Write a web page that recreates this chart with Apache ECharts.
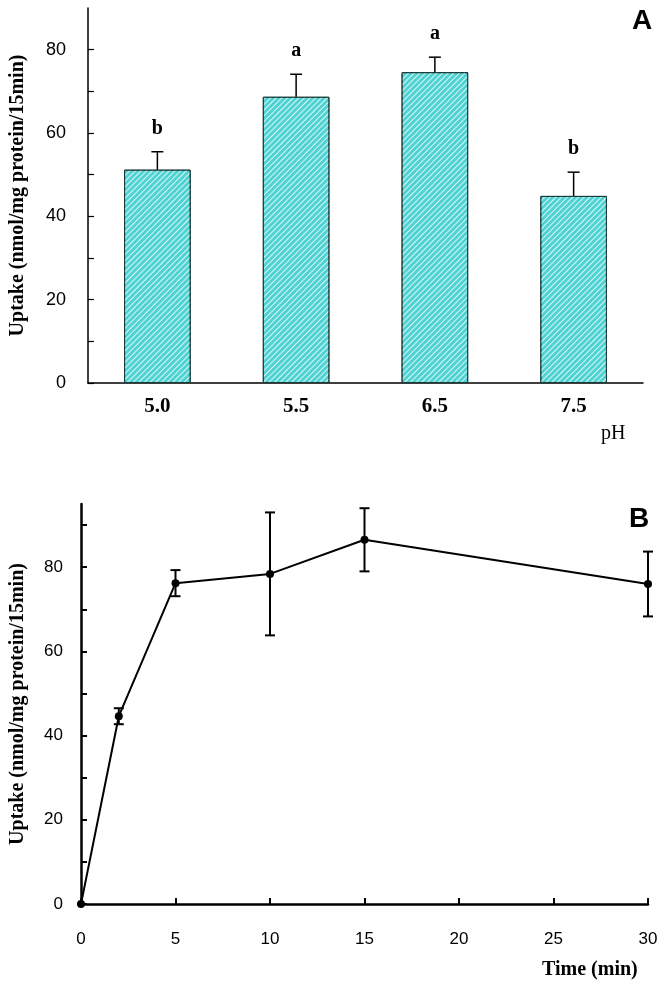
<!DOCTYPE html>
<html>
<head>
<meta charset="utf-8">
<script src="https://cdn.jsdelivr.net/npm/echarts@6/dist/echarts.min.js"></script>
<style>
html,body{margin:0;padding:0;background:#fff;}
#chart{width:664px;height:987px;}
</style>
</head>
<body>
<div id="chart"></div>
<script>
// Panel A data
var phCategories = ['5.0', '5.5', '6.5', '7.5'];
var phUptake = [51.2, 68.7, 74.6, 44.9];
var phError = [4.3, 5.4, 3.6, 5.7];
var phLetters = ['b', 'a', 'a', 'b'];
var yTicksA = [0, 10, 20, 30, 40, 50, 60, 70, 80];
var yLabelsA = [0, 20, 40, 60, 80];

// Panel B data
var timeMin = [0, 2, 5, 10, 15, 30];
var timeUptake = [0, 44.6, 76.2, 78.4, 86.5, 76.0];
var timeError = [0, 1.9, 3.1, 14.6, 7.5, 7.7];
var yTicksB = [0, 10, 20, 30, 40, 50, 60, 70, 80, 90];
var yLabelsB = [0, 20, 40, 60, 80];
var xTicksB = [0, 5, 10, 15, 20, 25, 30];

var serif = '"Liberation Serif", "DejaVu Serif", serif';
var sans = '"Liberation Sans", Arial, sans-serif';

var chart = echarts.init(document.getElementById('chart'), null, {renderer: 'canvas'});

var option = {
  animation: false,
  backgroundColor: '#fff',
  grid: [
    {left: 87, top: 8, width: 556, height: 375},
    {left: 81, top: 504, width: 567, height: 400}
  ],
  xAxis: [
    {
      type: 'category', gridIndex: 0, data: phCategories,
      axisLine: {lineStyle: {color: '#000', width: 1.5}},
      axisTick: {show: false},
      axisLabel: {color: '#000', fontFamily: serif, fontWeight: 'bold', fontSize: 21, margin: 13},
      splitLine: {show: false}
    },
    {
      type: 'value', gridIndex: 1, min: 0, max: 30, interval: 5,
      axisLine: {onZero: false, lineStyle: {color: '#000', width: 2.5}},
      axisTick: {inside: true, length: 6, lineStyle: {color: '#000', width: 2}, customValues: xTicksB},
      axisLabel: {color: '#000', fontFamily: sans, fontSize: 17, margin: 27, customValues: xTicksB},
      splitLine: {show: false}
    }
  ],
  yAxis: [
    {
      type: 'value', gridIndex: 0, min: 0, max: 90,
      name: 'Uptake (nmol/mg protein/15min)', nameLocation: 'middle', nameGap: 60,
      nameTextStyle: {color: '#000', fontFamily: serif, fontWeight: 'bold', fontSize: 20},
      axisLine: {show: true, lineStyle: {color: '#000', width: 1.5}},
      axisTick: {show: true, inside: true, length: 6, lineStyle: {color: '#000', width: 1.2}, customValues: yTicksA},
      axisLabel: {color: '#000', fontFamily: sans, fontSize: 18, margin: 22, customValues: yLabelsA},
      splitLine: {show: false}
    },
    {
      type: 'value', gridIndex: 1, min: 0, max: 95,
      name: 'Uptake (nmol/mg protein/15min)', nameLocation: 'middle', nameGap: 53,
      nameTextStyle: {color: '#000', fontFamily: serif, fontWeight: 'bold', fontSize: 20},
      axisLine: {show: true, lineStyle: {color: '#000', width: 2.5}},
      axisTick: {show: true, inside: true, length: 6, lineStyle: {color: '#000', width: 2}, customValues: yTicksB},
      axisLabel: {color: '#000', fontFamily: sans, fontSize: 17, margin: 18, customValues: yLabelsB},
      splitLine: {show: false}
    }
  ],
  series: [
    {
      type: 'bar', xAxisIndex: 0, yAxisIndex: 0,
      data: phUptake, barWidth: '48%',
      itemStyle: {
        color: '#4ed2d2', borderColor: '#1a3a3a', borderWidth: 1,
        decal: {
          symbol: 'rect', symbolSize: 1,
          dashArrayX: [1, 0], dashArrayY: [1, 2.6],
          rotation: -Math.PI / 4,
          color: 'rgba(255,255,255,0.8)'
        }
      }
    },
    {
      type: 'custom', xAxisIndex: 0, yAxisIndex: 0,
      data: phUptake.map(function (v, i) { return [i, v, phError[i]]; }),
      renderItem: function (params, api) {
        var i = api.value(0), v = api.value(1), e = api.value(2);
        var p0 = api.coord([i, v]);
        var p1 = api.coord([i, v + e]);
        var cw = 6;
        return {
          type: 'group',
          children: [
            {type: 'line', shape: {x1: p0[0], y1: p0[1], x2: p1[0], y2: p1[1]}, style: {stroke: '#000', lineWidth: 1.5}},
            {type: 'line', shape: {x1: p1[0] - cw, y1: p1[1], x2: p1[0] + cw, y2: p1[1]}, style: {stroke: '#000', lineWidth: 1.5}},
            {type: 'text', style: {
              text: phLetters[params.dataIndex], x: p1[0], y: p1[1] - 13,
              align: 'center', verticalAlign: 'bottom',
              font: 'bold 20px ' + serif, fill: '#000'
            }}
          ]
        };
      },
      z: 5
    },
    {
      type: 'line', xAxisIndex: 1, yAxisIndex: 1,
      data: timeMin.map(function (t, i) { return [t, timeUptake[i]]; }),
      symbol: 'circle', symbolSize: 8, showSymbol: true,
      lineStyle: {color: '#000', width: 2},
      itemStyle: {color: '#000'},
      z: 3
    },
    {
      type: 'custom', xAxisIndex: 1, yAxisIndex: 1,
      data: timeMin.map(function (t, i) { return [t, timeUptake[i], timeError[i]]; }),
      renderItem: function (params, api) {
        var t = api.value(0), v = api.value(1), e = api.value(2);
        if (e <= 0) return null;
        var pTop = api.coord([t, v + e]);
        var pBot = api.coord([t, v - e]);
        var cw = 5;
        return {
          type: 'group',
          children: [
            {type: 'line', shape: {x1: pTop[0], y1: pTop[1], x2: pBot[0], y2: pBot[1]}, style: {stroke: '#000', lineWidth: 2}},
            {type: 'line', shape: {x1: pTop[0] - cw, y1: pTop[1], x2: pTop[0] + cw, y2: pTop[1]}, style: {stroke: '#000', lineWidth: 2}},
            {type: 'line', shape: {x1: pBot[0] - cw, y1: pBot[1], x2: pBot[0] + cw, y2: pBot[1]}, style: {stroke: '#000', lineWidth: 2}}
          ]
        };
      },
      z: 4
    }
  ],
  graphic: [
    {type: 'text', left: 632, top: 7, style: {text: 'A', font: 'bold 28px ' + sans, fill: '#000'}},
    {type: 'text', left: 629, top: 505, style: {text: 'B', font: 'bold 28px ' + sans, fill: '#000'}},
    {type: 'text', left: 601, top: 424, style: {text: 'pH', font: '20px ' + serif, fill: '#000'}},
    {type: 'text', left: 542, top: 960, style: {text: 'Time (min)', font: 'bold 20px ' + serif, fill: '#000'}}
  ]
};

chart.setOption(option);
</script>
</body>
</html>
